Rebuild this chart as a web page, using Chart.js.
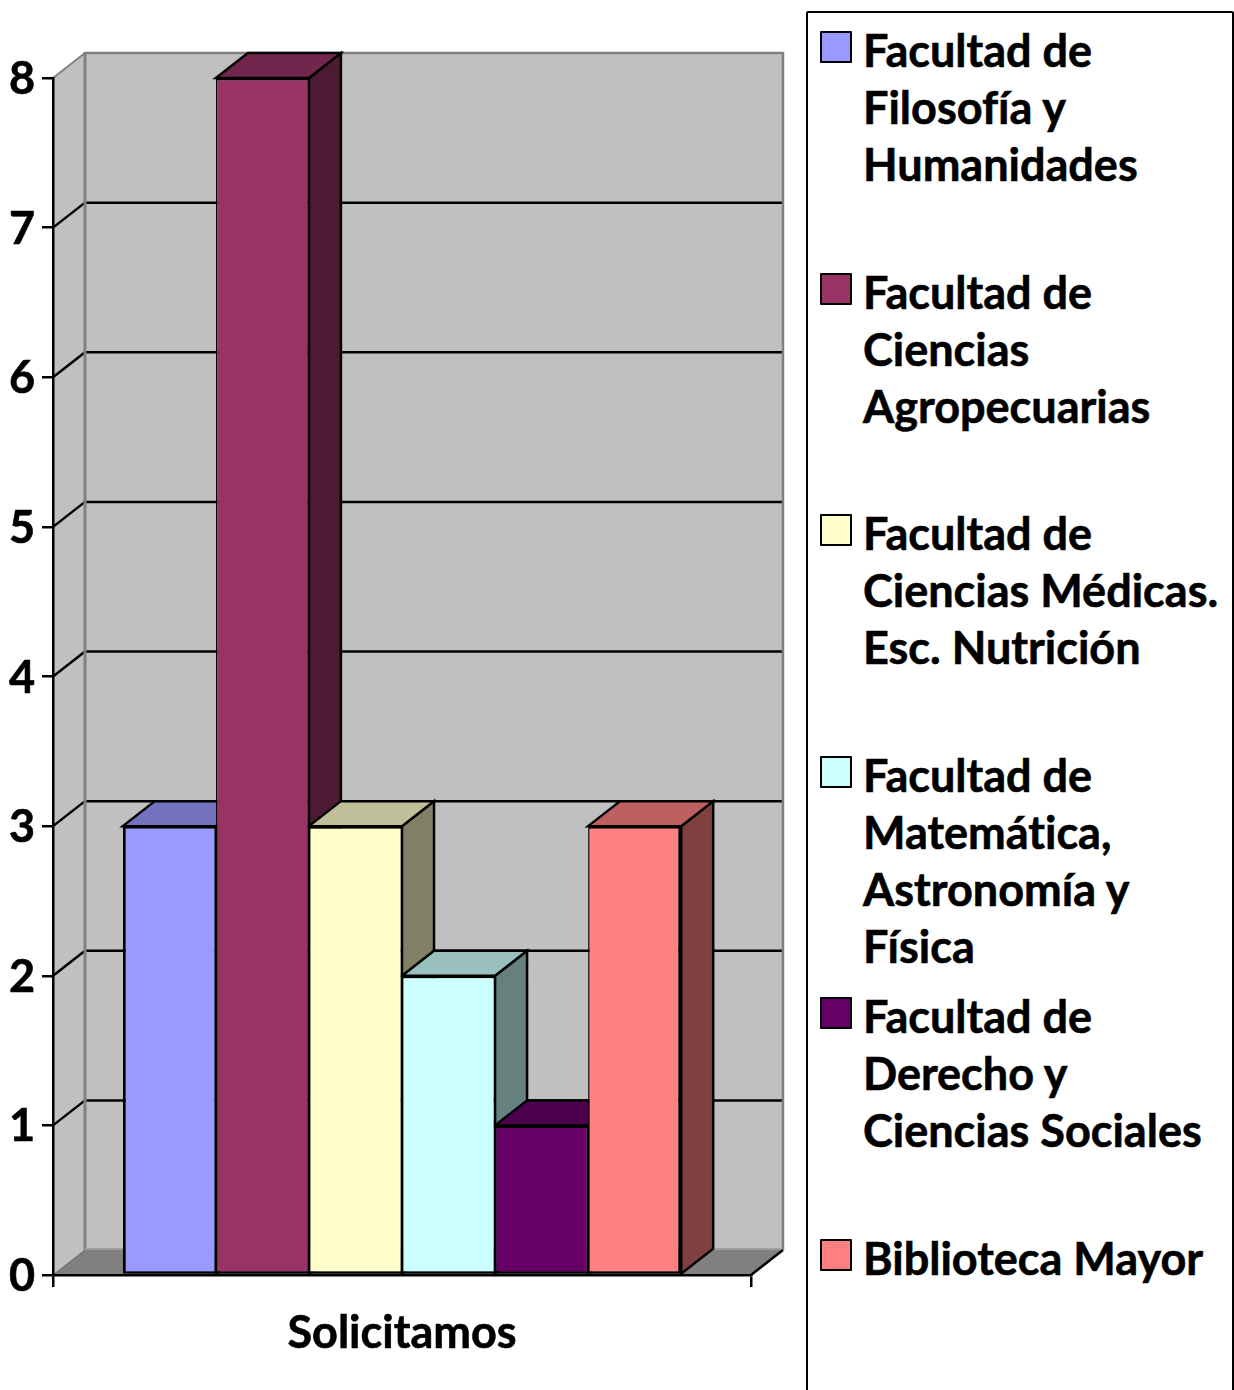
<!DOCTYPE html>
<html lang="es">
<head>
<meta charset="utf-8">
<title>Solicitamos</title>
<script src="https://cdn.jsdelivr.net/npm/chart.js@4"></script>
<style>
html,body{margin:0;padding:0;background:#fff;overflow:hidden;width:1234px;height:1390px}
#c{position:absolute;left:0;top:0}
#legend{position:absolute;left:806px;top:11px;width:424px;height:1400px;border:2px solid #000;border-radius:2px;background:#fff;box-sizing:content-box}
.item{position:absolute;left:0;font:700 45px/57px Lato,sans-serif;color:#000;white-space:nowrap;font-variant-ligatures:none;-webkit-text-stroke:0.6px #000}
.swatch{position:absolute;left:12px;width:28px;height:28px;border:2.5px solid #000;border-radius:1px}
.text{position:absolute;left:55px;top:0}
</style>
</head>
<body>
<canvas id="c" width="1234" height="1390"></canvas>
<div id="legend"></div>
<script>
const categories = ['Solicitamos'];
const seriesNames = [
  ['Facultad de','Filosofía y','Humanidades'],
  ['Facultad de','Ciencias','Agropecuarias'],
  ['Facultad de','Ciencias Médicas.','Esc. Nutrición'],
  ['Facultad de','Matemática,','Astronomía y','Física'],
  ['Facultad de','Derecho y','Ciencias Sociales'],
  ['Biblioteca Mayor']
];
const seriesValues = [[3],[8],[3],[2],[1],[3]];
const seriesColors = ['#9999FF','#993366','#FFFFCC','#CCFFFF','#660066','#FF8080'];
const yTicks = {min:0,max:8,step:1};

const DX = 32, DY = 25, LW = 2.5;
function shade(hex,f){
  const n = parseInt(hex.slice(1),16);
  return 'rgb('+[(n>>16)&255,(n>>8)&255,n&255].map(v=>Math.round(v*f)).join(',')+')';
}
function poly(ctx,pts,fill,stroke,lw){
  ctx.beginPath();
  pts.forEach((p,i)=> i?ctx.lineTo(p[0],p[1]):ctx.moveTo(p[0],p[1]));
  ctx.closePath();
  if(fill){ctx.fillStyle=fill;ctx.fill();}
  if(stroke){ctx.strokeStyle=stroke;ctx.lineWidth=lw;ctx.stroke();}
}
function line(ctx,x1,y1,x2,y2,c,w){
  ctx.beginPath();ctx.moveTo(x1,y1);ctx.lineTo(x2,y2);ctx.strokeStyle=c;ctx.lineWidth=w;ctx.stroke();
}
const box3d = {
  id:'box3d',
  beforeDraw(chart){
    const {ctx,chartArea:a,scales:{y}} = chart;
    const L=a.left,R=a.right,T=a.top,B=a.bottom;
    y.getLabelItems(a).forEach(it=>{ if(!it.shifted){ it.options.translation[1]+=1.5; it.shifted=true; } });
    ctx.save();
    ctx.lineJoin='miter';
    ctx.fontVariantLigatures='none';
    poly(ctx,[[L+DX,T-DY],[R+DX,T-DY],[R+DX,B-DY],[L+DX,B-DY]],'#C0C0C0');
    poly(ctx,[[L,T],[L+DX,T-DY],[L+DX,B-DY],[L,B]],'#C0C0C0');
    poly(ctx,[[L,B],[L+DX,B-DY],[R+DX,B-DY],[R,B]],'#808080');
    y.ticks.forEach(t=>{
      if(t.value===y.min||t.value===y.max) return;
      const p=y.getPixelForValue(t.value);
      line(ctx,L,p,L+DX,p-DY,'#000',2.5);
      line(ctx,L+DX,p-DY,R+DX,p-DY,'#000',2.5);
    });
    line(ctx,L,T,L+DX,T-DY,'#808080',2);
    line(ctx,L+DX,T-DY,R+DX,T-DY,'#808080',2.5);
    line(ctx,L+DX,T-DY-1,L+DX,B-DY,'#808080',3);
    line(ctx,R+DX,T-DY-1,R+DX,B-DY,'#808080',2.5);
    line(ctx,L+DX,B-DY-1,R+DX,B-DY-1,'#A0A0A0',2);
    line(ctx,L,B,L+DX,B-DY,'#606060',1);
    line(ctx,R,B,R+DX,B-DY,'#000',2.5);
    ctx.restore();
  },
  beforeDatasetsDraw(chart){
    const ctx=chart.ctx;
    ctx.save();
    ctx.lineJoin='miter';
    chart.data.datasets.forEach((ds,i)=>{
      const el=chart.getDatasetMeta(i).data[0];
      const l=el.x-el.width/2,r=el.x+el.width/2,t=el.y,b=el.base;
      poly(ctx,[[r,t],[r+DX,t-DY],[r+DX,b-DY],[r,b]],shade(ds.backgroundColor,0.5),'#000',LW);
      poly(ctx,[[l,t],[l+DX,t-DY],[r+DX,t-DY],[r,t]],shade(ds.backgroundColor,0.75),'#000',LW);
    });
    ctx.restore();
  }
};

const last = seriesValues.length-1;
new Chart(document.getElementById('c'),{
  type:'bar',
  plugins:[box3d],
  data:{
    labels:categories,
    datasets:seriesValues.map((v,i)=>({
      label:seriesNames[i].join(' '),
      data:v,
      backgroundColor:seriesColors[i],
      borderColor:'#000',
      borderWidth:{top:2.5,bottom:2.5,left:i===0?3:1.5,right:i===last?3:1.5},
      borderSkipped:false,
      clip:false
    }))
  },
  options:{
    responsive:false,
    animation:false,
    events:[],
    layout:{padding:{left:0,right:483,top:78,bottom:0}},
    categoryPercentage:0.8,
    barPercentage:1,
    plugins:{legend:{display:false},tooltip:{enabled:false},title:{display:false}},
    scales:{
      x:{
        afterFit(s){s.height=115;},
        grid:{drawOnChartArea:false,drawTicks:true,tickLength:12,color:'#000',lineWidth:2.5},
        border:{color:'#000',width:2.5},
        ticks:{color:'#000',padding:19,textStrokeColor:'#000',textStrokeWidth:0.6,font:{family:'Lato',size:45,weight:'700'},maxRotation:0}
      },
      y:{
        min:yTicks.min,max:yTicks.max,
        afterFit(s){s.width=53;},
        grid:{drawOnChartArea:false,drawTicks:true,tickLength:11,color:'#000',lineWidth:2.5},
        border:{color:'#000',width:2.5},
        ticks:{stepSize:yTicks.step,color:'#000',padding:7,textStrokeColor:'#000',textStrokeWidth:0.6,font:{family:'Lato',size:45,weight:'700'}}
      }
    }
  }
});

const legend=document.getElementById('legend');
const swatchTops=[33,275,516,758,999,1241];
seriesNames.forEach((lines,i)=>{
  const it=document.createElement('div');it.className='item';
  it.style.top=(swatchTops[i]-13-11)+'px';
  const sw=document.createElement('div');sw.className='swatch';sw.style.top='9px';sw.style.background=seriesColors[i];
  const tx=document.createElement('div');tx.className='text';tx.style.top='-0.5px';tx.innerHTML=lines.join('<br>');
  it.appendChild(sw);it.appendChild(tx);legend.appendChild(it);
});
</script>
</body>
</html>
